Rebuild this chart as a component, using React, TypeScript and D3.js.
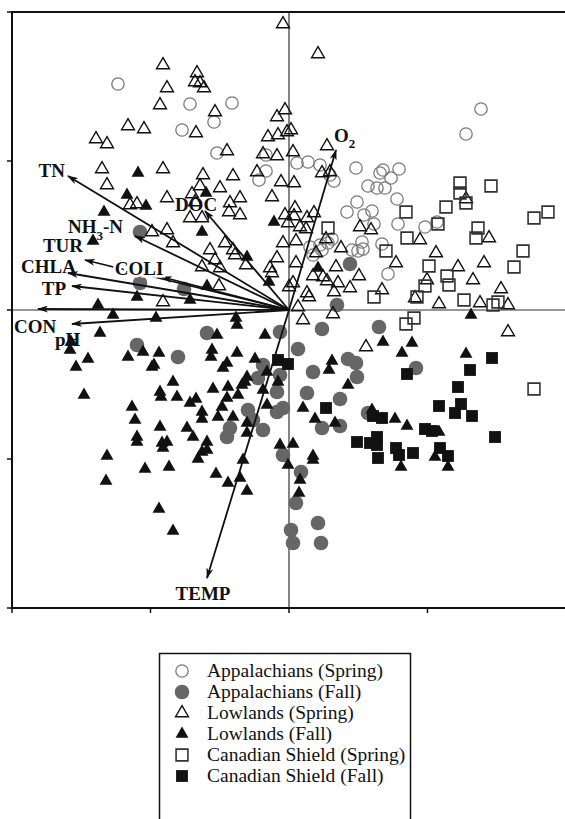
import * as d3 from 'd3';

// PCA scores (arbitrary units, origin at the axes cross)
const appSpring: [number, number][] = [
  [-171, 226], [-99, 206], [-57, 207], [-75, 188], [-107, 180], [-72, 157], [-23, 155], [192, 201], [177, 176],
  [-23, 139], [-30, 130], [8, 147], [19, 148], [31, 145], [41, 135], [45, 129], [67, 142], [91, 137], [94, 140],
  [110, 141], [102, 132], [79, 124], [88, 122], [96, 122], [108, 111], [68, 108], [58, 98], [75, 95], [83, 99],
  [85, 86], [109, 86], [136, 83], [148, 88], [73, 68], [69, 59], [63, 60], [74, 61], [93, 66], [21, 63], [31, 65],
  [39, 67], [43, 71], [33, 60], [24, 55], [99, 36],
];

const appFall: [number, number][] = [
  [-149, 78], [-149, 27], [-105, 21], [48, 5], [61, 46], [-82, -23], [-9, -22], [-152, -35], [-111, -47],
  [-26, -55], [-31, -68], [-9, -65], [-12, -82], [-41, -100], [-12, -102], [-36, -110], [-59, -118], [-62, -127],
  [-26, -120], [-6, -145], [33, -19], [90, -17], [9, -39], [24, -62], [59, -49], [67, -53], [68, -67], [127, -58],
  [18, -83], [51, -89], [79, -103], [33, -118], [51, -116], [-6, -98], [12, -162], [7, -193], [29, -213],
  [2, -220], [4, -233], [32, -233],
];

const lowSpring: [number, number][] = [
  [-6, 286], [-126, 245], [-92, 237], [-94, 228], [-89, 227], [-85, 222], [-122, 222], [-129, 205], [-74, 198],
  [-161, 184], [-145, 181], [-93, 177], [-193, 171], [-182, 166], [-62, 159], [-12, 193], [-4, 200], [-21, 173],
  [-11, 175], [-2, 178], [-26, 156], [-12, 154], [29, 256], [2, 180], [38, 164], [4, 158], [-187, 141],
  [-126, 141], [-86, 135], [-56, 134], [-32, 138], [-8, 128], [-182, 125], [-159, 105], [-152, 106], [-122, 112],
  [-97, 116], [-89, 124], [-94, 108], [-69, 122], [-59, 107], [-49, 112], [-60, 98], [-49, 95], [-17, 113],
  [-99, 92], [-87, 92], [-4, 95], [-137, 78], [-122, 80], [-116, 67], [-64, 67], [-6, 67], [-79, 60], [-56, 60],
  [-54, 55], [-12, 52], [-74, 50], [-87, 43], [-69, 42], [-43, 45], [-19, 42], [-17, 37], [-70, 24], [-126, 8],
  [0, 23], [33, 137], [41, 138], [5, 127], [6, 102], [5, 94], [25, 97], [18, 92], [11, 83], [17, 81], [-1, 87],
  [71, 83], [82, 80], [7, 69], [37, 71], [52, 62], [27, 57], [7, 47], [47, 43], [24, 34], [34, 33], [38, 29],
  [49, 27], [4, 27], [70, 34], [61, 22], [45, 18], [18, 17], [20, 13], [131, 70], [107, 47], [147, 57], [169, 43],
  [195, 47], [184, 30], [200, 72], [177, 111], [138, 30], [93, 20], [126, 12], [150, 6], [191, 7], [212, 21],
  [219, 5], [9, 3], [14, -10], [44, -4], [77, -37], [219, -22],
];

const lowFall: [number, number][] = [
  [-151, 137], [-162, 115], [-143, 104], [-83, 117], [-185, 98], [-15, 88], [-87, 78], [-196, 69], [-42, 53],
  [-20, 28], [-82, 24], [-152, 13], [-99, 10], [-191, 5], [29, 42], [-176, -5], [-133, -8], [-53, -8], [-52, -15],
  [-189, -23], [-72, -25], [-24, -25], [-218, -32], [-146, -42], [-130, -43], [-219, -40], [-201, -49],
  [-213, -57], [-161, -47], [-77, -40], [-78, -47], [-52, -43], [-34, -49], [-62, -53], [-66, -58], [-137, -57],
  [-135, -55], [-22, -62], [-42, -67], [-44, -72], [-116, -72], [-47, -75], [-76, -79], [-61, -77], [-11, -72],
  [-129, -82], [-128, -87], [-112, -87], [-205, -85], [-99, -93], [-93, -89], [-62, -88], [-51, -85], [-26, -80],
  [-157, -97], [-87, -102], [-67, -97], [-22, -95], [-87, -109], [-71, -107], [-56, -107], [-154, -110],
  [-129, -117], [-102, -118], [-42, -113], [-42, -123], [-96, -127], [-152, -127], [-152, -132], [-127, -133],
  [-122, -132], [-126, -138], [-82, -132], [-82, -140], [-87, -142], [-9, -135], [-182, -146], [-91, -149],
  [-46, -150], [-183, -171], [-144, -159], [-120, -157], [-73, -164], [-61, -173], [-49, -168], [-42, -181],
  [-130, -199], [-116, -221], [-1, -155], [24, -150], [11, -170], [10, -183], [182, -5], [94, -32], [123, -33],
  [113, -43], [177, -44], [43, -51], [40, -60], [59, -75], [14, -98], [26, -109], [46, -113], [83, -100],
  [106, -109], [118, -116], [138, -120], [150, -122], [4, -134], [24, -146], [146, -147], [159, -157], [112, -157],
];

const shieldSpring: [number, number][] = [
  [171, 127], [171, 117], [177, 107], [202, 124], [157, 103], [117, 98], [149, 86], [189, 82], [187, 72],
  [245, 92], [259, 98], [118, 72], [39, 82], [97, 59], [234, 59], [225, 43], [140, 44], [158, 34], [160, 25],
  [136, 24], [85, 13], [128, 13], [175, 10], [209, 8], [204, 5], [117, -14], [125, -8], [245, -79],
];

const shieldFall: [number, number][] = [
  [-11, -50], [-1, -54], [118, -64], [181, -60], [203, -48], [169, -77], [150, -96], [172, -94], [166, -103],
  [183, -106], [37, -98], [84, -106], [93, -108], [136, -119], [143, -121], [206, -127], [68, -132], [81, -133],
  [88, -127], [88, -135], [107, -138], [110, -145], [124, -143], [89, -148], [151, -138], [159, -146],
];

// variable loadings (arrow tips)
const loadingNames = ['TN', 'DOC', 'NH3-N', 'TUR', 'COLI', 'CHLA', 'TP', 'CON', 'pH', 'O2', 'TEMP'];
const loadingX = [-221, -84, -154, -204, -127, -221, -217, -251, -217, 47, -82];
const loadingY = [134, 99, 74, 50, 33, 37, 24, 1, -14, 160, -268];

// where each label sits relative to its arrow tip
const labelPlace: Record<string, [number, number, string]> = {
  TN: [-3, 1, 'end'],
  DOC: [-9, 0, 'middle'],
  'NH3-N': [-12, -3, 'end'],
  TUR: [-2, -8, 'end'],
  COLI: [-23, -2, 'middle'],
  CHLA: [8, 0, 'end'],
  TP: [-6, 9, 'end'],
  CON: [-24, 24, 'start'],
  pH: [-17, 22, 'start'],
  O2: [-2, -8, 'start'],
  TEMP: [-4, 22, 'middle'],
};

const legendLabels = [
  'Appalachians (Spring)',
  'Appalachians (Fall)',
  'Lowlands (Spring)',
  'Lowlands (Fall)',
  'Canadian Shield (Spring)',
  'Canadian Shield (Fall)',
];

const W = 565;
const H = 819;
const serif = '"Liberation Serif", "Times New Roman", serif';

const x = d3.scaleLinear().domain([-277, 277]).range([12, 566]);
const y = d3.scaleLinear().domain([-298, 298]).range([608, 12]);
const xTicks = [-277, -138.5, 0, 138.5, 277];
const yTicks = [-298, -149, 0, 149, 298];

const tri = d3.symbol(d3.symbolTriangle, 72)()!;
const sq = d3.symbol(d3.symbolSquare, 140)()!;

const Marker = ({ kind, cx, cy }: { kind: number; cx: number; cy: number }) => {
  const t = `translate(${cx},${cy})`;
  switch (kind) {
    case 0:
      return <circle cx={cx} cy={cy} r={6.2} fill="none" stroke="#7a7a7a" strokeWidth={1.3} />;
    case 1:
      return <circle cx={cx} cy={cy} r={7.3} fill="#666" />;
    case 2:
      return <path d={tri} transform={t} fill="none" stroke="#111" strokeWidth={1.4} />;
    case 3:
      return <path d={tri} transform={t} fill="#111" />;
    case 4:
      return <path d={sq} transform={t} fill="none" stroke="#333" strokeWidth={1.6} />;
    default:
      return <path d={sq} transform={t} fill="#111" />;
  }
};

const Label = ({ name }: { name: string }) => {
  if (name === 'NH3-N')
    return (
      <>
        NH<tspan fontSize={13} dy={7}>3</tspan>
        <tspan dy={-7}>-N</tspan>
      </>
    );
  if (name === 'O2')
    return (
      <>
        O<tspan fontSize={13} dy={6}>2</tspan>
      </>
    );
  return <>{name}</>;
};

export default function App() {
  // drawing order: grey fall circles under everything, filled marks on top
  const series: [number, [number, number][]][] = [
    [1, appFall],
    [0, appSpring],
    [2, lowSpring],
    [4, shieldSpring],
    [3, lowFall],
    [5, shieldFall],
  ];
  const legendKinds = [0, 1, 2, 3, 4, 5];

  return (
    <svg width={W} height={H} style={{ position: 'absolute', left: 0, top: 0, background: '#fff' }}>
      <defs>
        <marker id="ah" viewBox="0 0 11 7" refX={10} refY={3.5} markerWidth={11} markerHeight={7}
          orient="auto" markerUnits="userSpaceOnUse">
          <path d="M0,0 L11,3.5 L0,7 L3,3.5 Z" fill="#111" />
        </marker>
      </defs>

      {/* zero axes */}
      <line x1={x(0)} x2={x(0)} y1={y(298)} y2={y(-298)} stroke="#333" strokeWidth={1.2} />
      <line x1={x(-277)} x2={x(277)} y1={y(0)} y2={y(0)} stroke="#333" strokeWidth={1.2} />

      {series.map(([kind, pts]) =>
        pts.map((p, i) => <Marker key={`${kind}-${i}`} kind={kind} cx={x(p[0])} cy={y(p[1])} />)
      )}

      {/* loading arrows */}
      {loadingNames.map((n, i) => (
        <line key={n} x1={x(0)} y1={y(0)} x2={x(loadingX[i])} y2={y(loadingY[i])}
          stroke="#111" strokeWidth={1.8} markerEnd="url(#ah)" />
      ))}
      {loadingNames.map((n, i) => {
        const [dx, dy, anchor] = labelPlace[n];
        return (
          <text key={n} x={x(loadingX[i]) + dx} y={y(loadingY[i]) + dy} textAnchor={anchor}
            fontFamily={serif} fontWeight="bold" fontSize={19} fill="#111"
            stroke={n === 'COLI' ? '#fff' : 'none'} strokeWidth={n === 'COLI' ? 5 : 0}
            style={{ paintOrder: 'stroke' }}>
            <Label name={n} />
          </text>
        );
      })}

      {/* frame and ticks */}
      <path d={`M${x(277)},${y(298)} H${x(-277)} V${y(-298)} H${x(277)}`} fill="none" stroke="#111" strokeWidth={2} />
      {yTicks.map(t => (
        <line key={`yt${t}`} x1={x(-277) - 5} x2={x(-277)} y1={y(t)} y2={y(t)} stroke="#111" strokeWidth={1.5} />
      ))}
      {xTicks.map(t => (
        <line key={`xt${t}`} x1={x(t)} x2={x(t)} y1={y(-298)} y2={y(-298) + 5} stroke="#111" strokeWidth={1.5} />
      ))}

      {/* legend */}
      <rect x={159.5} y={653.5} width={251} height={200} fill="#fff" stroke="#111" strokeWidth={1.5} />
      {legendLabels.map((l, i) => {
        const cy = 671 + i * 21;
        return (
          <g key={l}>
            <Marker kind={legendKinds[i]} cx={182} cy={cy} />
            <text x={207} y={cy + 6} fontFamily={serif} fontSize={19.5} fill="#111">{l}</text>
          </g>
        );
      })}
    </svg>
  );
}
